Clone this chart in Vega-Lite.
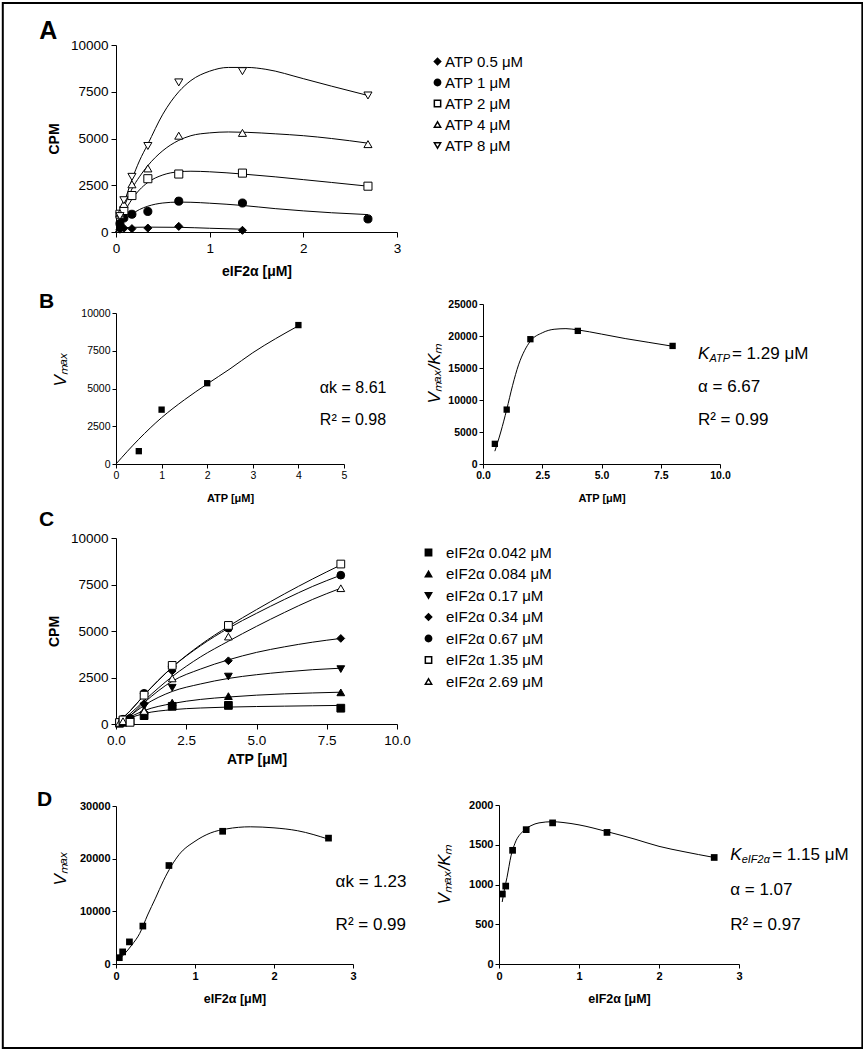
{
  "$schema": "https://vega.github.io/schema/vega-lite/v6.json",
  "background": "white",
  "padding": {"left": 1, "top": 1, "right": 0, "bottom": 0},
  "config": {
    "font": "Liberation Sans",
    "view": {"stroke": null},
    "axis": {"grid": false, "domainColor": "black", "tickColor": "black", "labelColor": "black", "titleColor": "black", "labelFont": "Liberation Sans", "titleFont": "Liberation Sans", "domainWidth": 1, "tickWidth": 1, "labelOverlap": false, "labelFlush": false, "titleBaseline": "middle", "titleAlign": "center"},
    "text": {"font": "Liberation Sans", "color": "black"}
  },
  "datasets": {
    "pts": [
      {"atp": 0.125, "eif": 0.042, "cpm": 40}, {"atp": 0.125, "eif": 0.084, "cpm": 60}, {"atp": 0.125, "eif": 0.17, "cpm": 70}, {"atp": 0.125, "eif": 0.34, "cpm": 80}, {"atp": 0.125, "eif": 0.67, "cpm": 100}, {"atp": 0.125, "eif": 1.35, "cpm": 80}, {"atp": 0.125, "eif": 2.69, "cpm": 60},
      {"atp": 0.25, "eif": 0.042, "cpm": 90}, {"atp": 0.25, "eif": 0.084, "cpm": 120}, {"atp": 0.25, "eif": 0.17, "cpm": 160}, {"atp": 0.25, "eif": 0.34, "cpm": 200}, {"atp": 0.25, "eif": 0.67, "cpm": 260}, {"atp": 0.25, "eif": 1.35, "cpm": 220}, {"atp": 0.25, "eif": 2.69, "cpm": 150},
      {"atp": 0.5, "eif": 0.042, "cpm": 150}, {"atp": 0.5, "eif": 0.084, "cpm": 200}, {"atp": 0.5, "eif": 0.17, "cpm": 180}, {"atp": 0.5, "eif": 0.34, "cpm": 210}, {"atp": 0.5, "eif": 0.67, "cpm": 300}, {"atp": 0.5, "eif": 1.35, "cpm": 90},
      {"atp": 1, "eif": 0.042, "cpm": 450}, {"atp": 1, "eif": 0.084, "cpm": 750}, {"atp": 1, "eif": 0.17, "cpm": 950}, {"atp": 1, "eif": 0.34, "cpm": 1100}, {"atp": 1, "eif": 0.67, "cpm": 1650}, {"atp": 1, "eif": 1.35, "cpm": 1550}, {"atp": 1, "eif": 2.69, "cpm": 700},
      {"atp": 2, "eif": 0.042, "cpm": 950}, {"atp": 2, "eif": 0.084, "cpm": 1150}, {"atp": 2, "eif": 0.17, "cpm": 1950}, {"atp": 2, "eif": 0.34, "cpm": 2850}, {"atp": 2, "eif": 0.67, "cpm": 3100}, {"atp": 2, "eif": 1.35, "cpm": 3150}, {"atp": 2, "eif": 2.69, "cpm": 2450},
      {"atp": 4, "eif": 0.042, "cpm": 1000}, {"atp": 4, "eif": 0.084, "cpm": 1500}, {"atp": 4, "eif": 0.17, "cpm": 2550}, {"atp": 4, "eif": 0.34, "cpm": 3400}, {"atp": 4, "eif": 0.67, "cpm": 5150}, {"atp": 4, "eif": 1.35, "cpm": 5300}, {"atp": 4, "eif": 2.69, "cpm": 4700},
      {"atp": 8, "eif": 0.042, "cpm": 850}, {"atp": 8, "eif": 0.084, "cpm": 1700}, {"atp": 8, "eif": 0.17, "cpm": 2950}, {"atp": 8, "eif": 0.34, "cpm": 4600}, {"atp": 8, "eif": 0.67, "cpm": 8000}, {"atp": 8, "eif": 1.35, "cpm": 8600}, {"atp": 8, "eif": 2.69, "cpm": 7300}
    ],
    "acurve": [
      {"atp": 8, "eif": 0, "cpm": 0}, {"atp": 8, "eif": 0.042, "cpm": 800}, {"atp": 8, "eif": 0.084, "cpm": 1500}, {"atp": 8, "eif": 0.17, "cpm": 2800}, {"atp": 8, "eif": 0.25, "cpm": 3800}, {"atp": 8, "eif": 0.34, "cpm": 4700}, {"atp": 8, "eif": 0.5, "cpm": 6300}, {"atp": 8, "eif": 0.67, "cpm": 7500}, {"atp": 8, "eif": 0.8, "cpm": 8100}, {"atp": 8, "eif": 1.0, "cpm": 8600}, {"atp": 8, "eif": 1.2, "cpm": 8800}, {"atp": 8, "eif": 1.4, "cpm": 8800}, {"atp": 8, "eif": 1.6, "cpm": 8700}, {"atp": 8, "eif": 2.0, "cpm": 8200}, {"atp": 8, "eif": 2.3, "cpm": 7800}, {"atp": 8, "eif": 2.69, "cpm": 7300},
      {"atp": 4, "eif": 0, "cpm": 0}, {"atp": 4, "eif": 0.042, "cpm": 700}, {"atp": 4, "eif": 0.084, "cpm": 1300}, {"atp": 4, "eif": 0.17, "cpm": 2300}, {"atp": 4, "eif": 0.25, "cpm": 2950}, {"atp": 4, "eif": 0.34, "cpm": 3550}, {"atp": 4, "eif": 0.5, "cpm": 4350}, {"atp": 4, "eif": 0.67, "cpm": 4900}, {"atp": 4, "eif": 0.8, "cpm": 5150}, {"atp": 4, "eif": 1.0, "cpm": 5300}, {"atp": 4, "eif": 1.2, "cpm": 5350}, {"atp": 4, "eif": 1.4, "cpm": 5330}, {"atp": 4, "eif": 1.7, "cpm": 5250}, {"atp": 4, "eif": 2.0, "cpm": 5150}, {"atp": 4, "eif": 2.3, "cpm": 5000}, {"atp": 4, "eif": 2.69, "cpm": 4750},
      {"atp": 2, "eif": 0, "cpm": 0}, {"atp": 2, "eif": 0.042, "cpm": 550}, {"atp": 2, "eif": 0.084, "cpm": 1000}, {"atp": 2, "eif": 0.17, "cpm": 1750}, {"atp": 2, "eif": 0.25, "cpm": 2250}, {"atp": 2, "eif": 0.34, "cpm": 2650}, {"atp": 2, "eif": 0.5, "cpm": 3050}, {"atp": 2, "eif": 0.67, "cpm": 3220}, {"atp": 2, "eif": 0.8, "cpm": 3250}, {"atp": 2, "eif": 1.0, "cpm": 3220}, {"atp": 2, "eif": 1.35, "cpm": 3100}, {"atp": 2, "eif": 1.7, "cpm": 2950}, {"atp": 2, "eif": 2.0, "cpm": 2800}, {"atp": 2, "eif": 2.3, "cpm": 2650}, {"atp": 2, "eif": 2.69, "cpm": 2450},
      {"atp": 1, "eif": 0, "cpm": 0}, {"atp": 1, "eif": 0.042, "cpm": 350}, {"atp": 1, "eif": 0.084, "cpm": 600}, {"atp": 1, "eif": 0.17, "cpm": 950}, {"atp": 1, "eif": 0.25, "cpm": 1200}, {"atp": 1, "eif": 0.34, "cpm": 1380}, {"atp": 1, "eif": 0.5, "cpm": 1550}, {"atp": 1, "eif": 0.67, "cpm": 1600}, {"atp": 1, "eif": 0.8, "cpm": 1590}, {"atp": 1, "eif": 1.0, "cpm": 1540}, {"atp": 1, "eif": 1.35, "cpm": 1420}, {"atp": 1, "eif": 1.7, "cpm": 1250}, {"atp": 1, "eif": 2.0, "cpm": 1130}, {"atp": 1, "eif": 2.3, "cpm": 1030}, {"atp": 1, "eif": 2.69, "cpm": 930},
      {"atp": 0.5, "eif": 0, "cpm": 0}, {"atp": 0.5, "eif": 0.042, "cpm": 150}, {"atp": 0.5, "eif": 0.084, "cpm": 220}, {"atp": 0.5, "eif": 0.17, "cpm": 250}, {"atp": 0.5, "eif": 0.34, "cpm": 260}, {"atp": 0.5, "eif": 0.67, "cpm": 250}, {"atp": 0.5, "eif": 1.0, "cpm": 200}, {"atp": 0.5, "eif": 1.35, "cpm": 150}
    ],
    "ccurve": [
      {"eif": 1.35, "atp": 0, "cpm": 0}, {"eif": 1.35, "atp": 0.5, "cpm": 700}, {"eif": 1.35, "atp": 1, "cpm": 1550}, {"eif": 1.35, "atp": 2, "cpm": 3050}, {"eif": 1.35, "atp": 3, "cpm": 4250}, {"eif": 1.35, "atp": 4, "cpm": 5250}, {"eif": 1.35, "atp": 5, "cpm": 6150}, {"eif": 1.35, "atp": 6, "cpm": 7000}, {"eif": 1.35, "atp": 7, "cpm": 7800}, {"eif": 1.35, "atp": 8, "cpm": 8550},
      {"eif": 0.67, "atp": 0, "cpm": 0}, {"eif": 0.67, "atp": 0.5, "cpm": 700}, {"eif": 0.67, "atp": 1, "cpm": 1550}, {"eif": 0.67, "atp": 2, "cpm": 3050}, {"eif": 0.67, "atp": 3, "cpm": 4200}, {"eif": 0.67, "atp": 4, "cpm": 5150}, {"eif": 0.67, "atp": 5, "cpm": 5950}, {"eif": 0.67, "atp": 6, "cpm": 6700}, {"eif": 0.67, "atp": 7, "cpm": 7400}, {"eif": 0.67, "atp": 8, "cpm": 8000},
      {"eif": 2.69, "atp": 0, "cpm": 0}, {"eif": 2.69, "atp": 0.5, "cpm": 550}, {"eif": 2.69, "atp": 1, "cpm": 1250}, {"eif": 2.69, "atp": 2, "cpm": 2550}, {"eif": 2.69, "atp": 3, "cpm": 3600}, {"eif": 2.69, "atp": 4, "cpm": 4450}, {"eif": 2.69, "atp": 5, "cpm": 5250}, {"eif": 2.69, "atp": 6, "cpm": 6000}, {"eif": 2.69, "atp": 7, "cpm": 6700}, {"eif": 2.69, "atp": 8, "cpm": 7300},
      {"eif": 0.34, "atp": 0, "cpm": 0}, {"eif": 0.34, "atp": 0.5, "cpm": 450}, {"eif": 0.34, "atp": 1, "cpm": 1150}, {"eif": 0.34, "atp": 2, "cpm": 2300}, {"eif": 0.34, "atp": 3, "cpm": 2950}, {"eif": 0.34, "atp": 4, "cpm": 3450}, {"eif": 0.34, "atp": 5, "cpm": 3850}, {"eif": 0.34, "atp": 6, "cpm": 4150}, {"eif": 0.34, "atp": 7, "cpm": 4400}, {"eif": 0.34, "atp": 8, "cpm": 4600},
      {"eif": 0.17, "atp": 0, "cpm": 0}, {"eif": 0.17, "atp": 0.5, "cpm": 450}, {"eif": 0.17, "atp": 1, "cpm": 1000}, {"eif": 0.17, "atp": 2, "cpm": 1750}, {"eif": 0.17, "atp": 3, "cpm": 2150}, {"eif": 0.17, "atp": 4, "cpm": 2450}, {"eif": 0.17, "atp": 5, "cpm": 2650}, {"eif": 0.17, "atp": 6, "cpm": 2800}, {"eif": 0.17, "atp": 7, "cpm": 2920}, {"eif": 0.17, "atp": 8, "cpm": 3000},
      {"eif": 0.084, "atp": 0, "cpm": 0}, {"eif": 0.084, "atp": 0.5, "cpm": 380}, {"eif": 0.084, "atp": 1, "cpm": 720}, {"eif": 0.084, "atp": 2, "cpm": 1100}, {"eif": 0.084, "atp": 3, "cpm": 1320}, {"eif": 0.084, "atp": 4, "cpm": 1450}, {"eif": 0.084, "atp": 5, "cpm": 1550}, {"eif": 0.084, "atp": 6, "cpm": 1620}, {"eif": 0.084, "atp": 7, "cpm": 1670}, {"eif": 0.084, "atp": 8, "cpm": 1710},
      {"eif": 0.042, "atp": 0, "cpm": 0}, {"eif": 0.042, "atp": 0.5, "cpm": 330}, {"eif": 0.042, "atp": 1, "cpm": 560}, {"eif": 0.042, "atp": 2, "cpm": 770}, {"eif": 0.042, "atp": 3, "cpm": 860}, {"eif": 0.042, "atp": 4, "cpm": 910}, {"eif": 0.042, "atp": 5, "cpm": 940}, {"eif": 0.042, "atp": 6, "cpm": 960}, {"eif": 0.042, "atp": 7, "cpm": 980}, {"eif": 0.042, "atp": 8, "cpm": 1000}
    ],
    "bl_pts": [{"x": 0.5, "y": 850}, {"x": 1, "y": 3600}, {"x": 2, "y": 5350}, {"x": 4, "y": 9200}],
    "bl_curve": [{"x": 0, "y": 0}, {"x": 0.5, "y": 1640}, {"x": 1, "y": 3070}, {"x": 1.5, "y": 4250}, {"x": 2, "y": 5300}, {"x": 2.5, "y": 6300}, {"x": 3, "y": 7370}, {"x": 3.5, "y": 8300}, {"x": 4, "y": 9150}],
    "br_pts": [{"x": 0.5, "y": 3150}, {"x": 1, "y": 8500}, {"x": 2, "y": 19500}, {"x": 4, "y": 20800}, {"x": 8, "y": 18450}],
    "br_curve": [{"x": 0.5, "y": 2000}, {"x": 0.75, "y": 5000}, {"x": 1, "y": 8500}, {"x": 1.25, "y": 12300}, {"x": 1.5, "y": 15500}, {"x": 1.75, "y": 17700}, {"x": 2, "y": 19200}, {"x": 2.5, "y": 20500}, {"x": 3, "y": 21050}, {"x": 3.5, "y": 21150}, {"x": 4, "y": 20950}, {"x": 5, "y": 20300}, {"x": 6, "y": 19600}, {"x": 7, "y": 19000}, {"x": 8, "y": 18400}],
    "dl_pts": [{"x": 0.042, "y": 1200}, {"x": 0.084, "y": 2300}, {"x": 0.17, "y": 4200}, {"x": 0.34, "y": 7200}, {"x": 0.67, "y": 18700}, {"x": 1.35, "y": 25200}, {"x": 2.69, "y": 23900}],
    "dl_curve": [{"x": 0.042, "y": 900}, {"x": 0.1, "y": 1800}, {"x": 0.2, "y": 3600}, {"x": 0.3, "y": 5800}, {"x": 0.4, "y": 9300}, {"x": 0.5, "y": 12500}, {"x": 0.6, "y": 15800}, {"x": 0.7, "y": 18600}, {"x": 0.8, "y": 20800}, {"x": 1.0, "y": 23300}, {"x": 1.2, "y": 24900}, {"x": 1.4, "y": 25650}, {"x": 1.7, "y": 26050}, {"x": 2.0, "y": 25850}, {"x": 2.3, "y": 25300}, {"x": 2.69, "y": 23700}],
    "dr_pts": [{"x": 0.042, "y": 880}, {"x": 0.084, "y": 980}, {"x": 0.17, "y": 1430}, {"x": 0.34, "y": 1690}, {"x": 0.67, "y": 1775}, {"x": 1.35, "y": 1655}, {"x": 2.69, "y": 1340}],
    "dr_curve": [{"x": 0.04, "y": 780}, {"x": 0.07, "y": 950}, {"x": 0.1, "y": 1090}, {"x": 0.15, "y": 1360}, {"x": 0.2, "y": 1520}, {"x": 0.3, "y": 1670}, {"x": 0.4, "y": 1740}, {"x": 0.5, "y": 1775}, {"x": 0.67, "y": 1790}, {"x": 0.8, "y": 1780}, {"x": 1.0, "y": 1750}, {"x": 1.35, "y": 1665}, {"x": 1.7, "y": 1570}, {"x": 2.0, "y": 1480}, {"x": 2.3, "y": 1415}, {"x": 2.69, "y": 1340}]
  },
  "bounds": "flush",
  "columns": 2,
  "spacing": {"row": 72, "column": 86},
  "resolve": {"scale": {"shape": "independent", "fill": "independent"}, "legend": {"shape": "independent", "fill": "independent"}},
  "concat": [
    {
      "width": 281, "height": 187,
      "encoding": {
        "x": {"field": "eif", "type": "quantitative", "scale": {"domain": [0, 3], "nice": false, "zero": true},
              "axis": {"values": [0, 1, 2, 3], "format": "d", "title": "eIF2α [μM]", "titleFontSize": 14, "titleFontWeight": "bold", "labelFontSize": 13.5, "tickSize": 5, "labelPadding": 4, "titleX": 140.5, "titleY": 39}},
        "y": {"field": "cpm", "type": "quantitative", "scale": {"domain": [0, 10000], "nice": false},
              "axis": {"values": [0, 2500, 5000, 7500, 10000], "format": "d", "title": "CPM", "titleFontSize": 14, "titleFontWeight": "bold", "labelFontSize": 13.5, "tickSize": 5, "labelPadding": 3, "titleX": -62, "titleY": 93.5}}
      },
      "layer": [
        {"data": {"values": [{"eif": -1.2086, "eif2": 7.968, "cpm": 12246, "cpm2": -43636}]},
         "mark": {"type": "rect", "fill": null, "fillOpacity": 0, "stroke": "black", "strokeWidth": 2},
         "encoding": {"x2": {"field": "eif2"}, "y2": {"field": "cpm2"}}},
        {"data": {"name": "acurve"}, "mark": {"type": "line", "color": "black", "strokeWidth": 1, "interpolate": "monotone"}, "encoding": {"detail": {"field": "atp", "type": "nominal"}}},
        {"data": {"name": "pts"}, "transform": [{"filter": "datum.atp >= 0.5"}],
         "mark": {"type": "point", "filled": true, "stroke": "black", "strokeWidth": 1, "size": 65, "opacity": 1},
         "encoding": {
           "shape": {"field": "atp", "type": "nominal", "scale": {"domain": [0.5, 1, 2, 4, 8], "range": ["diamond", "circle", "square", "triangle-up", "triangle-down"]},
                     "legend": {"orient": "none", "legendX": 314, "legendY": 9, "title": null, "labelFontSize": 15, "labelFont": "Liberation Sans", "labelColor": "black", "symbolSize": 40, "labelOffset": 0, "rowPadding": 5, "padding": 0, "labelExpr": "'ATP ' + datum.label + ' μM'", "encode": {"symbols": {"update": {"stroke": {"value": "black"}, "strokeWidth": {"value": 1}}}}}},
           "fill": {"field": "atp", "type": "nominal", "scale": {"domain": [0.5, 1, 2, 4, 8], "range": ["black", "black", "white", "white", "white"]},
                     "legend": {"orient": "none", "legendX": 314, "legendY": 9, "title": null, "labelFontSize": 15, "labelFont": "Liberation Sans", "labelColor": "black", "symbolSize": 40, "labelOffset": 0, "rowPadding": 5, "padding": 0, "labelExpr": "'ATP ' + datum.label + ' μM'", "encode": {"symbols": {"update": {"stroke": {"value": "black"}, "strokeWidth": {"value": 1}}}}}}
         }},
        {"data": {"values": [{"eif": -0.82, "cpm": 10320, "t": "A"}]},
         "mark": {"type": "text", "align": "left", "baseline": "alphabetic", "fontSize": 25, "fontWeight": "bold", "font": "Liberation Sans"}, "encoding": {"text": {"field": "t"}}}
      ]
    },
    {"width": 10, "height": 10, "data": {"values": [{"s": 1}]}, "mark": {"type": "point", "opacity": 0}, "encoding": {}},
    {
      "width": 228, "height": 160,
      "encoding": {
        "x": {"field": "x", "type": "quantitative", "scale": {"domain": [0, 5], "nice": false},
              "axis": {"values": [0, 1, 2, 3, 4, 5], "format": "d", "title": "ATP [μM]", "titleFontSize": 11, "titleFontWeight": "bold", "labelFontSize": 10.5, "tickSize": 4, "labelPadding": 2, "titleX": 114, "titleY": 34}},
        "y": {"field": "y", "type": "quantitative", "scale": {"domain": [0, 10000], "nice": false, "range": [160, 9]},
              "axis": {"values": [0, 2500, 5000, 7500, 10000], "format": "d", "title": "Vₘₐₓ", "titleFontSize": 17, "titleFontWeight": "normal", "titleFontStyle": "italic", "labelFontSize": 10.5, "tickSize": 4, "labelPadding": 2, "titleX": -56, "titleY": 65}}
      },
      "layer": [
        {"data": {"name": "bl_curve"}, "mark": {"type": "line", "color": "black", "strokeWidth": 1, "interpolate": "monotone"}},
        {"data": {"name": "bl_pts"}, "mark": {"type": "square", "color": "black", "size": 40, "opacity": 1}},
        {"data": {"values": [{"x": 4.47, "y": 5033, "t": "αk = 8.61"}, {"x": 4.47, "y": 2914, "t": "R² = 0.98"}]},
         "mark": {"type": "text", "align": "left", "baseline": "middle", "fontSize": 16, "font": "Liberation Sans"}, "encoding": {"text": {"field": "t"}}},
        {"data": {"values": [{"x": -1.69, "y": 10330, "t": "B"}]},
         "mark": {"type": "text", "align": "left", "baseline": "alphabetic", "fontSize": 21, "fontWeight": "bold", "font": "Liberation Sans"}, "encoding": {"text": {"field": "t"}}}
      ]
    },
    {
      "width": 237, "height": 160,
      "encoding": {
        "x": {"field": "x", "type": "quantitative", "scale": {"domain": [0, 10], "nice": false},
              "axis": {"values": [0, 2.5, 5, 7.5, 10], "format": ".1f", "title": "ATP [μM]", "titleFontSize": 11, "titleFontWeight": "bold", "labelFontSize": 10.5, "labelFontWeight": "bold", "tickSize": 4, "labelPadding": 2, "titleX": 118.5, "titleY": 34}},
        "y": {"field": "y", "type": "quantitative", "scale": {"domain": [0, 25000], "nice": false},
              "axis": {"values": [0, 5000, 10000, 15000, 20000, 25000], "format": "d", "title": "Vₘₐₓ/Kₘ", "titleFontSize": 17, "titleFontWeight": "normal", "titleFontStyle": "italic", "labelFontSize": 10.5, "labelFontWeight": "bold", "tickSize": 4, "labelPadding": 2, "titleX": -49, "titleY": 69}}
      },
      "layer": [
        {"data": {"name": "br_curve"}, "mark": {"type": "line", "color": "black", "strokeWidth": 1, "interpolate": "monotone"}},
        {"data": {"name": "br_pts"}, "mark": {"type": "square", "color": "black", "size": 40, "opacity": 1}},
        {"data": {"values": [{"x": 9.07, "y": 17190, "t": "K"}]},
         "mark": {"type": "text", "align": "left", "baseline": "middle", "fontSize": 17, "fontStyle": "italic", "font": "Liberation Sans"}, "encoding": {"text": {"field": "t"}}},
        {"data": {"values": [{"x": 9.07, "y": 17190, "t": "ATP"}]},
         "mark": {"type": "text", "align": "left", "baseline": "middle", "fontSize": 11, "fontStyle": "italic", "font": "Liberation Sans", "dx": 11.5, "dy": 5}, "encoding": {"text": {"field": "t"}}},
        {"data": {"values": [{"x": 9.07, "y": 17190, "t": "= 1.29 μM"}]},
         "mark": {"type": "text", "align": "left", "baseline": "middle", "fontSize": 17, "font": "Liberation Sans", "dx": 34}, "encoding": {"text": {"field": "t"}}},
        {"data": {"values": [{"x": 9.07, "y": 12030, "t": "α = 6.67"}, {"x": 9.07, "y": 6875, "t": "R² = 0.99"}]},
         "mark": {"type": "text", "align": "left", "baseline": "middle", "fontSize": 17, "font": "Liberation Sans"}, "encoding": {"text": {"field": "t"}}}
      ]
    },
    {
      "width": 281, "height": 188,
      "encoding": {
        "x": {"field": "atp", "type": "quantitative", "scale": {"domain": [0, 10], "nice": false},
              "axis": {"values": [0, 2.5, 5, 7.5, 10], "format": ".1f", "title": "ATP [μM]", "titleFontSize": 14, "titleFontWeight": "bold", "labelFontSize": 13.5, "tickSize": 5, "labelPadding": 4, "titleX": 140.5, "titleY": 35}},
        "y": {"field": "cpm", "type": "quantitative", "scale": {"domain": [0, 10000], "nice": false, "range": [188, 2]},
              "axis": {"values": [0, 2500, 5000, 7500, 10000], "format": "d", "title": "CPM", "titleFontSize": 14, "titleFontWeight": "bold", "labelFontSize": 13.5, "tickSize": 5, "labelPadding": 3, "titleX": -62, "titleY": 95}}
      },
      "layer": [
        {"data": {"name": "ccurve"}, "mark": {"type": "line", "color": "black", "strokeWidth": 1, "interpolate": "monotone"}, "encoding": {"detail": {"field": "eif", "type": "nominal"}}},
        {"data": {"name": "pts"},
         "mark": {"type": "point", "filled": true, "stroke": "black", "strokeWidth": 1, "size": 60, "opacity": 1},
         "encoding": {
           "shape": {"field": "eif", "type": "nominal", "scale": {"domain": [0.042, 0.084, 0.17, 0.34, 0.67, 1.35, 2.69], "range": ["square", "triangle-up", "triangle-down", "diamond", "circle", "square", "triangle-up"]},
                     "legend": {"orient": "none", "legendX": 305, "legendY": 9, "title": null, "labelFontSize": 15, "labelFont": "Liberation Sans", "labelColor": "black", "symbolSize": 40, "labelOffset": 10, "rowPadding": 5.5, "padding": 0, "labelExpr": "'eIF2α ' + datum.label + ' μM'", "encode": {"symbols": {"update": {"stroke": {"value": "black"}, "strokeWidth": {"value": 1}}}}}},
           "fill": {"field": "eif", "type": "nominal", "scale": {"domain": [0.042, 0.084, 0.17, 0.34, 0.67, 1.35, 2.69], "range": ["black", "black", "black", "black", "black", "white", "white"]},
                     "legend": {"orient": "none", "legendX": 305, "legendY": 9, "title": null, "labelFontSize": 15, "labelFont": "Liberation Sans", "labelColor": "black", "symbolSize": 40, "labelOffset": 10, "rowPadding": 5.5, "padding": 0, "labelExpr": "'eIF2α ' + datum.label + ' μM'", "encode": {"symbols": {"update": {"stroke": {"value": "black"}, "strokeWidth": {"value": 1}}}}}}
         }},
        {"data": {"values": [{"atp": -2.74, "cpm": 10645, "t": "C"}]},
         "mark": {"type": "text", "align": "left", "baseline": "alphabetic", "fontSize": 21, "fontWeight": "bold", "font": "Liberation Sans"}, "encoding": {"text": {"field": "t"}}}
      ]
    },
    {"width": 10, "height": 10, "data": {"values": [{"s": 1}]}, "mark": {"type": "point", "opacity": 0}, "encoding": {}},
    {
      "width": 237, "height": 168,
      "encoding": {
        "x": {"field": "x", "type": "quantitative", "scale": {"domain": [0, 3], "nice": false},
              "axis": {"values": [0, 1, 2, 3], "format": "d", "title": "eIF2α [μM]", "titleFontSize": 12.5, "titleFontWeight": "bold", "labelFontSize": 11, "labelFontWeight": "bold", "tickSize": 4, "labelPadding": 2, "titleX": 118.5, "titleY": 34}},
        "y": {"field": "y", "type": "quantitative", "scale": {"domain": [0, 30000], "nice": false, "range": [168, 10]},
              "axis": {"values": [0, 10000, 20000, 30000], "format": "d", "title": "Vₘₐₓ", "titleFontSize": 17, "titleFontWeight": "normal", "titleFontStyle": "italic", "labelFontSize": 11, "labelFontWeight": "bold", "tickSize": 4, "labelPadding": 2, "titleX": -56, "titleY": 72}}
      },
      "layer": [
        {"data": {"name": "dl_curve"}, "mark": {"type": "line", "color": "black", "strokeWidth": 1, "interpolate": "monotone"}},
        {"data": {"name": "dl_pts"}, "mark": {"type": "square", "color": "black", "size": 45, "opacity": 1}},
        {"data": {"values": [{"x": 2.78, "y": 15660, "t": "αk = 1.23"}, {"x": 2.78, "y": 7358, "t": "R² = 0.99"}]},
         "mark": {"type": "text", "align": "left", "baseline": "middle", "fontSize": 17, "font": "Liberation Sans"}, "encoding": {"text": {"field": "t"}}},
        {"data": {"values": [{"x": -1.0, "y": 30000, "t": "D"}]},
         "mark": {"type": "text", "align": "left", "baseline": "alphabetic", "fontSize": 21, "fontWeight": "bold", "font": "Liberation Sans"}, "encoding": {"text": {"field": "t"}}}
      ]
    },
    {
      "width": 256, "height": 168,
      "encoding": {
        "x": {"field": "x", "type": "quantitative", "scale": {"domain": [0, 3], "nice": false, "range": [16, 256]},
              "axis": {"values": [0, 1, 2, 3], "format": "d", "title": "eIF2α [μM]", "titleFontSize": 12.5, "titleFontWeight": "bold", "labelFontSize": 11, "labelFontWeight": "bold", "tickSize": 4, "labelPadding": 2, "titleX": 136, "titleY": 34}},
        "y": {"field": "y", "type": "quantitative", "scale": {"domain": [0, 2000], "nice": false, "range": [168, 9]},
              "axis": {"offset": -16, "values": [0, 500, 1000, 1500, 2000], "format": "d", "title": "Vₘₐₓ/Kₘ", "titleFontSize": 17, "titleFontWeight": "normal", "titleFontStyle": "italic", "labelFontSize": 11, "labelFontWeight": "bold", "tickSize": 4, "labelPadding": 2, "titleX": -55, "titleY": 78}}
      },
      "layer": [
        {"data": {"name": "dr_curve"}, "mark": {"type": "line", "color": "black", "strokeWidth": 1, "interpolate": "monotone"}},
        {"data": {"name": "dr_pts"}, "mark": {"type": "square", "color": "black", "size": 45, "opacity": 1}},
        {"data": {"values": [{"x": 2.89, "y": 1371, "t": "K"}]},
         "mark": {"type": "text", "align": "left", "baseline": "middle", "fontSize": 17, "fontStyle": "italic", "font": "Liberation Sans"}, "encoding": {"text": {"field": "t"}}},
        {"data": {"values": [{"x": 2.89, "y": 1371, "t": "eIF2α"}]},
         "mark": {"type": "text", "align": "left", "baseline": "middle", "fontSize": 11, "fontStyle": "italic", "font": "Liberation Sans", "dx": 11.5, "dy": 5}, "encoding": {"text": {"field": "t"}}},
        {"data": {"values": [{"x": 2.89, "y": 1371, "t": "= 1.15 μM"}]},
         "mark": {"type": "text", "align": "left", "baseline": "middle", "fontSize": 17, "font": "Liberation Sans", "dx": 42}, "encoding": {"text": {"field": "t"}}},
        {"data": {"values": [{"x": 2.89, "y": 931, "t": "α = 1.07"}, {"x": 2.89, "y": 491, "t": "R² = 0.97"}]},
         "mark": {"type": "text", "align": "left", "baseline": "middle", "fontSize": 17, "font": "Liberation Sans"}, "encoding": {"text": {"field": "t"}}}
      ]
    }
  ]
}
